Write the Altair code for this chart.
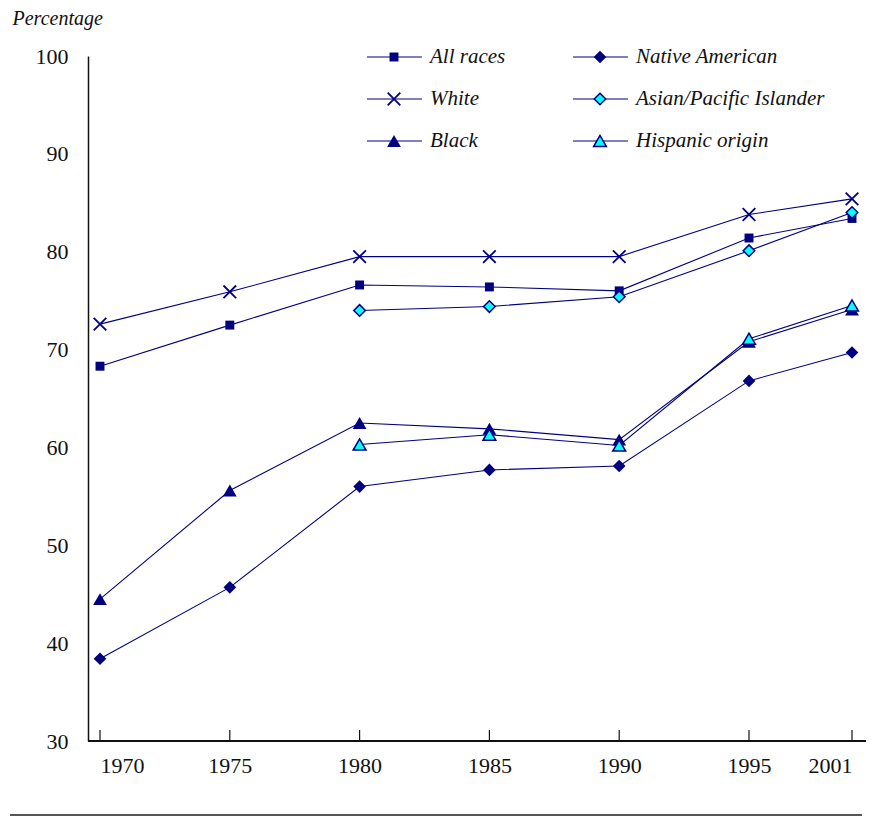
import altair as alt
import pandas as pd

years = [1970, 1975, 1980, 1985, 1990, 1995, 2001]
series_names = ["All races", "White", "Black", "Native American",
                "Asian/Pacific Islander", "Hispanic origin"]
all_races = [68.3, 72.5, 76.6, 76.4, 76.0, 81.4, 83.4]
white = [72.6, 75.9, 79.5, 79.5, 79.5, 83.8, 85.4]
black = [44.5, 55.6, 62.5, 61.9, 60.8, 70.8, 74.1]
native = [38.4, 45.7, 56.0, 57.7, 58.1, 66.8, 69.7]
asian = [None, None, 74.0, 74.4, 75.4, 80.1, 84.0]
hispanic = [None, None, 60.3, 61.3, 60.2, 71.1, 74.5]
y_ticks = [30, 40, 50, 60, 70, 80, 90, 100]

values = [all_races, white, black, native, asian, hispanic]

NAVY = "#000080"
CYAN = "#00FFFF"
FONT = "Liberation Serif"
W, H = 778, 685
XPATH = "M-1,-1L1,1M-1,1L1,-1"

styles = {
    "All races": dict(shape="square", fill=NAVY, size=80, strokeWidth=0, filled=True),
    "White": dict(shape=XPATH, fill=None, size=160, strokeWidth=1.8, filled=False),
    "Black": dict(shape="triangle-up", fill=NAVY, size=190, strokeWidth=0, filled=True),
    "Native American": dict(shape="diamond", fill=NAVY, size=160, strokeWidth=0, filled=True),
    "Asian/Pacific Islander": dict(shape="diamond", fill=CYAN, size=135, strokeWidth=1.5, filled=True),
    "Hispanic origin": dict(shape="triangle-up", fill=CYAN, size=165, strokeWidth=1.5, filled=True),
}

rows = []
for name, vals in zip(series_names, values):
    for yr, v in zip(years, vals):
        if v is not None:
            rows.append({"year": yr, "value": v, "series": name})
df = pd.DataFrame(rows)

xscale = alt.Scale(domain=[1970, 1995, 2001], range=[12, 661, 764], zero=False, nice=False)
yscale = alt.Scale(domain=[30, 100], zero=False, nice=False)

xenc = alt.X("year:Q", scale=xscale,
             axis=alt.Axis(values=years, format="d", domain=False, ticks=False,
                           labelFontSize=22, labelFont=FONT, labelColor="#111",
                           labelPadding=14, title=None, grid=False))
yenc = alt.Y("value:Q", scale=yscale,
             axis=alt.Axis(values=y_ticks, domain=True, domainColor="#111", domainWidth=1.5,
                           ticks=False, labelFontSize=22, labelFont=FONT, labelColor="#111",
                           labelPadding=20, grid=False, title="Percentage",
                           titleAngle=0, titleAlign="left", titleBaseline="alphabetic",
                           titleX=-76, titleY=-32, titleFont=FONT, titleFontSize=20,
                           titleFontStyle="italic", titleFontWeight="normal",
                           titleColor="#111"))

lines = alt.Chart(df).mark_line(color=NAVY, strokeWidth=1.1).encode(
    x=xenc, y=yenc, detail="series:N")

layers = [lines]
for name in series_names:
    st = styles[name]
    kw = dict(shape=st["shape"], size=st["size"], stroke=NAVY,
              strokeWidth=st["strokeWidth"], filled=st["filled"], opacity=1)
    if st["fill"] is not None:
        kw["fill"] = st["fill"]
    pts = alt.Chart(df[df["series"] == name]).mark_point(**kw).encode(
        x=alt.X("year:Q", scale=xscale), y=alt.Y("value:Q", scale=yscale))
    layers.append(pts)

# inward x ticks
tick_df = pd.DataFrame({"year": years})
ticks = alt.Chart(tick_df).mark_rule(color="#111", strokeWidth=1.2).encode(
    x=alt.X("year:Q", scale=xscale), y=alt.value(H), y2=alt.value(H - 11))
layers.append(ticks)

# x axis line
xline = alt.Chart(tick_df).mark_rule(color="#111", strokeWidth=1.5).encode(
    x=alt.value(0), x2=alt.value(W), y=alt.value(H))
layers.append(xline)

# bottom separator rule
sep = alt.Chart(tick_df).mark_rule(color="#555", strokeWidth=2).encode(
    x=alt.value(-78), x2=alt.value(W - 4), y=alt.value(759))
layers.append(sep)

# custom legend
for i, name in enumerate(series_names):
    col, row = i // 3, i % 3
    bx = 279 + col * 206
    ry = 1 + row * 42
    st = styles[name]
    ldf = pd.DataFrame({"series": [name]})
    layers.append(alt.Chart(ldf).mark_rule(color=NAVY, strokeWidth=1.1).encode(
        x=alt.value(bx), x2=alt.value(bx + 55), y=alt.value(ry)))
    kw = dict(shape=st["shape"], size=st["size"], stroke=NAVY,
              strokeWidth=st["strokeWidth"], filled=st["filled"], opacity=1)
    if st["fill"] is not None:
        kw["fill"] = st["fill"]
    layers.append(alt.Chart(ldf).mark_point(**kw).encode(
        x=alt.value(bx + 27), y=alt.value(ry)))
    layers.append(alt.Chart(ldf).mark_text(
        align="left", baseline="middle", font=FONT, fontSize=21,
        fontStyle="italic", color="#111").encode(
        x=alt.value(bx + 63), y=alt.value(ry), text="series:N"))

chart = alt.layer(*layers).properties(
    width=W, height=H,
    background="white",
    autosize=alt.AutoSizeParams(type="none"),
    padding={"left": 80, "top": 48, "right": 0, "bottom": 76},
).configure_view(stroke=None)

chart.save("out.html", embed_options={"renderer": "svg", "actions": False})
